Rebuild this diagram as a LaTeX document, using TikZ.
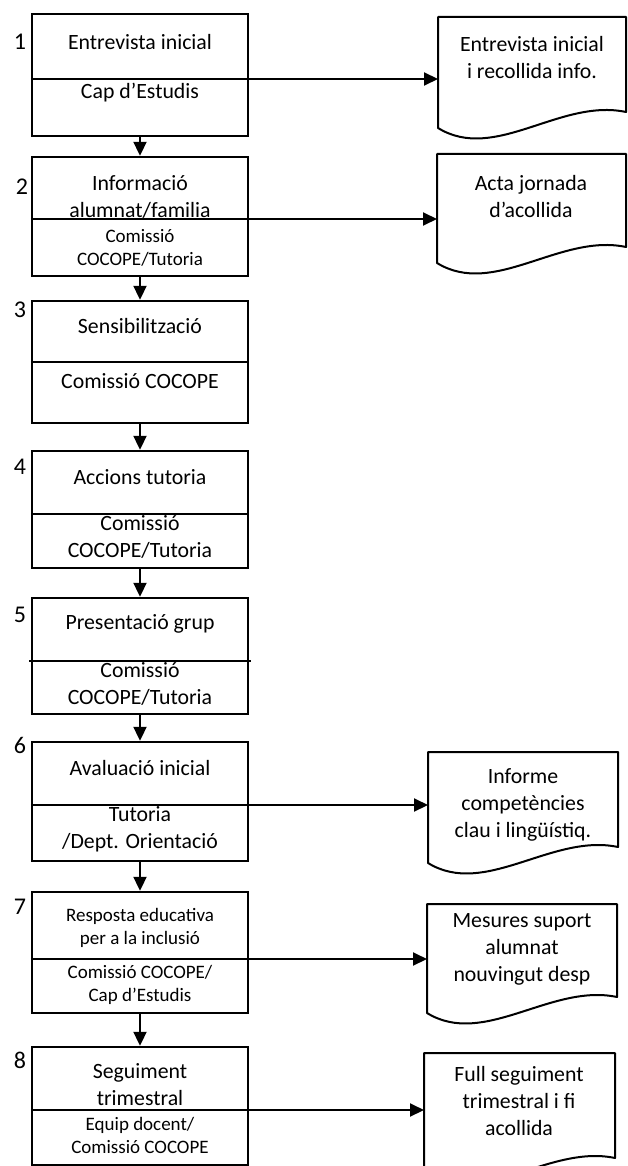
\documentclass[tikz,border=0pt]{standalone}
\usepackage{fontspec}
\setmainfont{Carlito}
\usetikzlibrary{arrows.meta}
\tikzset{
  stepbox/.style={draw, line width=2.4pt, minimum width=216pt, inner sep=0pt},
  docbox/.style={inner sep=0pt, outer sep=0pt},
  big/.style={font=\fontsize{21.8}{27}\selectfont, align=center, inner sep=0pt},
  small/.style={font=\fontsize{19}{23}\selectfont, align=center, inner sep=0pt},
  num/.style={font=\fontsize{24}{28}\selectfont, inner sep=0pt},
  rule/.style={line width=2pt},
  arrow/.style={line width=2pt, -{Triangle[length=14pt,width=13pt]}},
  outline/.style={line width=2pt, line join=round},
}

\begin{document}
\begin{tikzpicture}[x=1pt, y=-1pt]
\path[use as bounding box, fill=white] (0,0) rectangle (627,1166);
% Steps
    \node[stepbox, minimum height=122pt] (s1) at (140,75) {};
    \node[stepbox, minimum height=119pt] (s2) at (140,216.5) {};
    \node[stepbox, minimum height=122pt] (s3) at (140,362) {};
    \node[stepbox, minimum height=117pt] (s4) at (140,509.5) {};
    \node[stepbox, minimum height=116pt] (s5) at (140,656) {};
    \node[stepbox, minimum height=119pt] (s6) at (140,801.5) {};
    \node[stepbox, minimum height=121pt] (s7) at (140,952.5) {};
    \node[stepbox, minimum height=118pt] (s8) at (140,1106) {};
% Dividers
    \coordinate (d1) at (248,79);
    \coordinate (d2) at (248,219);
    \coordinate (d3) at (248,362);
    \coordinate (d4) at (248,514);
    \coordinate (d5) at (251,661);
    \coordinate (d6) at (248,805);
    \coordinate (d7) at (248,959);
    \coordinate (d8) at (248,1110);
    \foreach \i in {1,2,3,4,6,7,8}
        \draw[rule] (s\i.west |- d\i) -- (d\i);
    \draw[rule] (29,661) -- (d5);
% Numbers
    \node[num] (n1) at (20,42) {1};
    \node[num] (n2) at (22,187) {2};
    \node[num] (n3) at (20,310) {3};
    \node[num] (n4) at (20,467) {4};
    \node[num] (n5) at (20,615) {5};
    \node[num] (n6) at (20,745) {6};
    \node[num] (n7) at (20,907) {7};
    \node[num] (n8) at (20,1060) {8};
% Step texts
    \node[big] (t1) at (140,42) {Entrevista inicial};
    \node[big] (r1) at (140,93) {Cap d’Estudis};
    \node[big] (t2) at (140,197) {Informació\\alumnat/familia};
    \node[small] (r2) at (140,248) {Comissió\\COCOPE/Tutoria};
    \node[big] (t3) at (140,326) {Sensibilització};
    \node[big] (r3) at (140,381) {Comissió COCOPE};
    \node[big] (t4) at (140,477) {Accions tutoria};
    \node[big] (r4) at (140,536.5) {Comissió\\COCOPE/Tutoria};
    \node[big] (t5) at (140,624) {Presentació grup};
    \node[big] (r5) at (140,684) {Comissió\\COCOPE/Tutoria};
    \node[big] (t6) at (140,768) {Avaluació inicial};
    \node[big] (r6) at (140,829) {Tutoria\\/Dept. Orientació};
    \node[small] (t7) at (140,928) {Resposta educativa\\per a la inclusió};
    \node[small] (r7) at (140,984.5) {Comissió COCOPE/\\Cap d’Estudis};
    \node[big] (t8) at (140,1085) {Seguiment\\trimestral};
    \node[small] (r8) at (140,1135) {Equip docent/\\Comissió COCOPE};
% Documents
    \node[docbox, minimum width=188pt, minimum height=111pt] (doc1) at (532,72.5) {};
    \node[docbox, minimum width=189pt, minimum height=109pt] (doc2) at (531.5,208.5) {};
    \node[docbox, minimum width=190pt, minimum height=111pt] (doc6) at (523,807.5) {};
    \node[docbox, minimum width=190pt, minimum height=109pt] (doc7) at (522,958.5) {};
    \node[docbox, minimum width=191pt, minimum height=121pt] (doc8) at (519.5,1113.5) {};
    \foreach \d in {doc1,doc2,doc6,doc7,doc8}
        \draw[outline] (\d.north west) -- (\d.north east) -- ([shift={(0,-16)}]\d.south east)
            .. controls ([shift={(-66,-30)}]\d.south east) and ([shift={(57,35)}]\d.south west) .. (\d.south west) -- cycle;
    \node[big] (e1) at (532,57.5) {Entrevista inicial\\i recollida info.};
    \node[big] (e2) at (531,197) {Acta jornada\\d’acollida};
    \node[big] (e6) at (523,805) {Informe\\competències\\clau i lingüístiq.};
    \node[big] (e7) at (522,949) {Mesures suport\\alumnat\\nouvingut desp};
    \node[big] (e8) at (519,1101) {Full seguiment\\trimestral i fi\\acollida};
% Flow
    \foreach \a/\b in {1/2,2/3,3/4,4/5,5/6,6/7,7/8}
        \draw[arrow] (s\a) -- (s\b);
    \foreach \i in {1,2,6,7,8}
        \draw[arrow] (d\i) -- (d\i -| doc\i.west);
\end{tikzpicture}
\end{document}
